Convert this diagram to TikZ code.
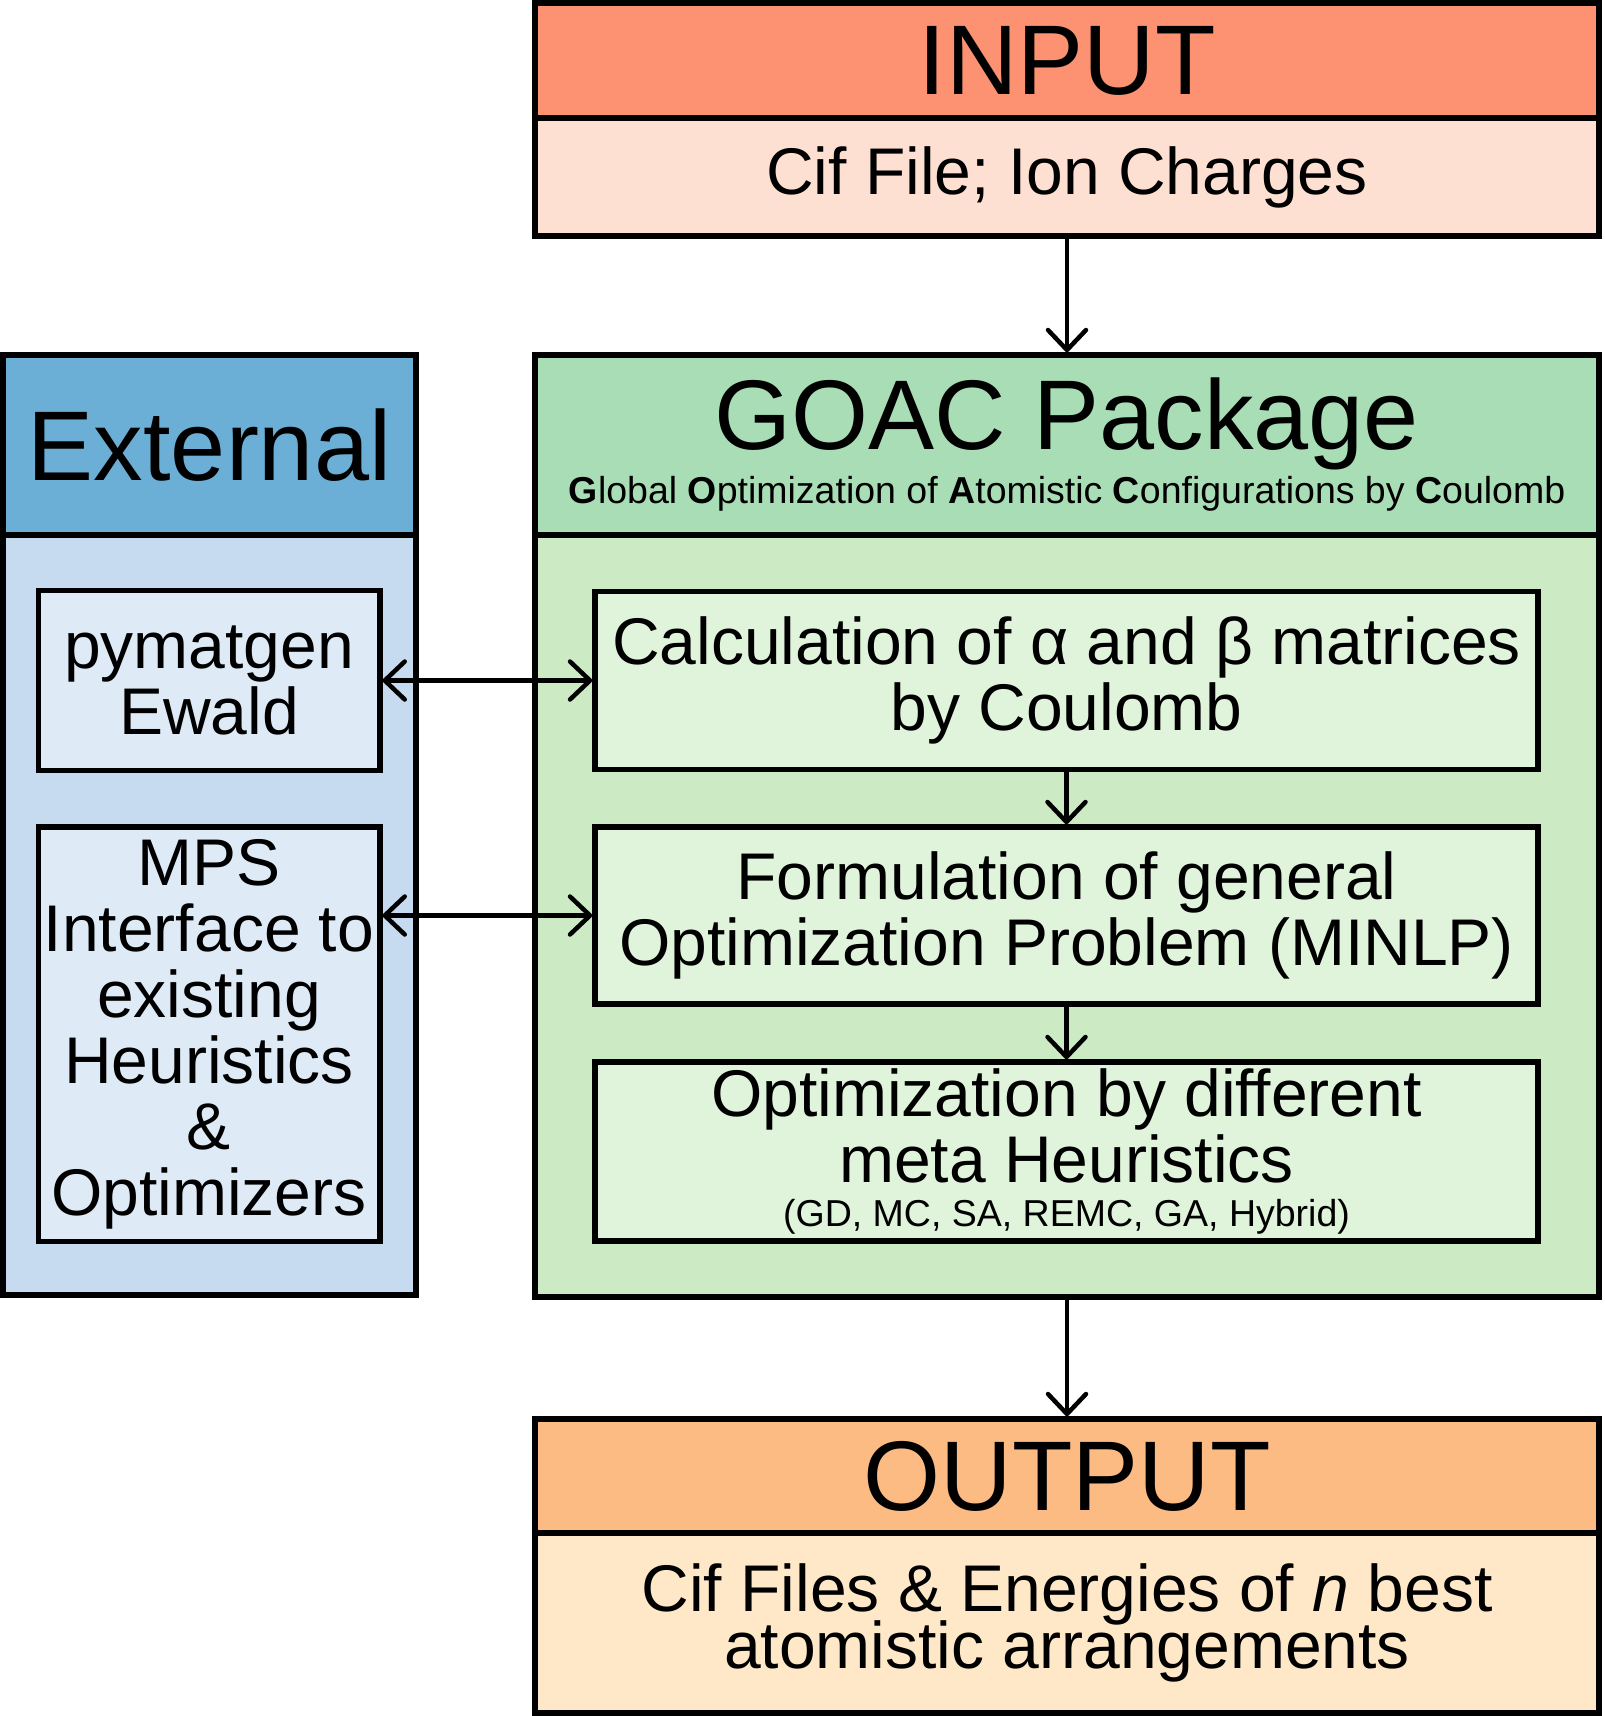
\documentclass[tikz,border=0pt]{standalone}
\usepackage{fontspec}
\setmainfont{Liberation Sans}
\usetikzlibrary{arrows.meta}

\definecolor{inputdark}{HTML}{FC9272}
\definecolor{inputlight}{HTML}{FEE0D2}
\definecolor{goacdark}{HTML}{A8DDB5}
\definecolor{goacmid}{HTML}{CCEBC5}
\definecolor{goaclight}{HTML}{E0F3DB}
\definecolor{extdark}{HTML}{6BAED6}
\definecolor{extmid}{HTML}{C6DBEF}
\definecolor{extlight}{HTML}{DEEBF7}
\definecolor{outdark}{HTML}{FDBB84}
\definecolor{outlight}{HTML}{FEE8C8}

\begin{document}
\begin{tikzpicture}[x=1pt, y=-1pt,
  >={Straight Barb[length=20pt,width=38pt,round]},
  box/.style={draw, line width=5.5pt, inner sep=0pt, align=center},
  bigtxt/.style={font=\fontsize{99}{99}\selectfont},
  midtxt/.style={font=\fontsize{66}{66}\selectfont},
  smalltxt/.style={font=\fontsize{37.5}{40}\selectfont},
  wide/.style={minimum width=1064pt},
  inner/.style={box, midtxt, fill=goaclight, minimum width=943pt},
  extbox/.style={box, midtxt, fill=extlight, minimum width=341.5pt},
  flow/.style={line width=4.5pt}]
  \useasboundingbox (0,0) rectangle (1604,1716);

  % Input block
  \node[box, bigtxt, wide, fill=inputdark, minimum height=115pt] (inhead) at (1067,60.5) {INPUT};
  \node[box, midtxt, wide, fill=inputlight, minimum height=118pt] (inbody) at (1067,177) {Cif File; Ion Charges};

  % GOAC package
  \node[box, wide, fill=goacdark, minimum height=180pt] (goachead) at (1067,445) {};
  \node[bigtxt, anchor=base] (goactitle) at (1067,449) {GOAC Package};
  \node[smalltxt, anchor=base] (goacsub) at (1067,503)
    {\textbf{G}lobal \textbf{O}ptimization of \textbf{A}tomistic \textbf{C}onfigurations by \textbf{C}oulomb};
  \node[box, wide, fill=goacmid, minimum height=762pt] (goacbody) at (1067,916) {};

  \node[inner, minimum height=178pt] (calc) at (1066.5,680.5)
    {Calculation of α and β matrices\\by Coulomb};
  \node[inner, minimum height=177pt] (form) at (1066.5,915.5)
    {Formulation of general\\Optimization Problem (MINLP)};
  \node[inner, minimum height=179pt] (opt) at (1066.5,1151.5)
    {Optimization by different\\meta Heuristics\\[-22pt]{\fontsize{37.5}{40}\selectfont (GD, MC, SA, REMC, GA, Hybrid)}};

  % External tools
  \node[box, bigtxt, fill=extdark, minimum width=413pt, minimum height=180pt] (exthead) at (209.5,445) {External};
  \node[box, fill=extmid, minimum width=413pt, minimum height=760pt] (extbody) at (209.5,915) {};

  \node[extbox, minimum height=180pt] (pymatgen) at (209,680.5) {pymatgen\\Ewald};
  \node[extbox, minimum height=414.5pt] (mps) at (209,1034)
    {MPS\\Interface to\\existing\\Heuristics\\\&\\Optimizers};

  % Output block
  \node[box, bigtxt, wide, fill=outdark, minimum height=114pt] (outhead) at (1067,1476) {OUTPUT};
  \node[box, midtxt, wide, fill=outlight, minimum height=180pt] (outbody) at (1067,1623)
    {Cif Files \& Energies of \textit{n} best\\[-9pt]atomistic arrangements};

  % Flows
  \draw[flow,->] (inbody.south) -- (goachead.north);
  \draw[flow,->] (calc.south) -- (form.north);
  \draw[flow,->] (form.south) -- (opt.north);
  \draw[flow,->] (goacbody.south) -- (outhead.north);
  \draw[flow,<->] (pymatgen.east) -- (calc.west);
  \draw[flow,<->] (mps.east |- form.west) -- (form.west);
\end{tikzpicture}
\end{document}
